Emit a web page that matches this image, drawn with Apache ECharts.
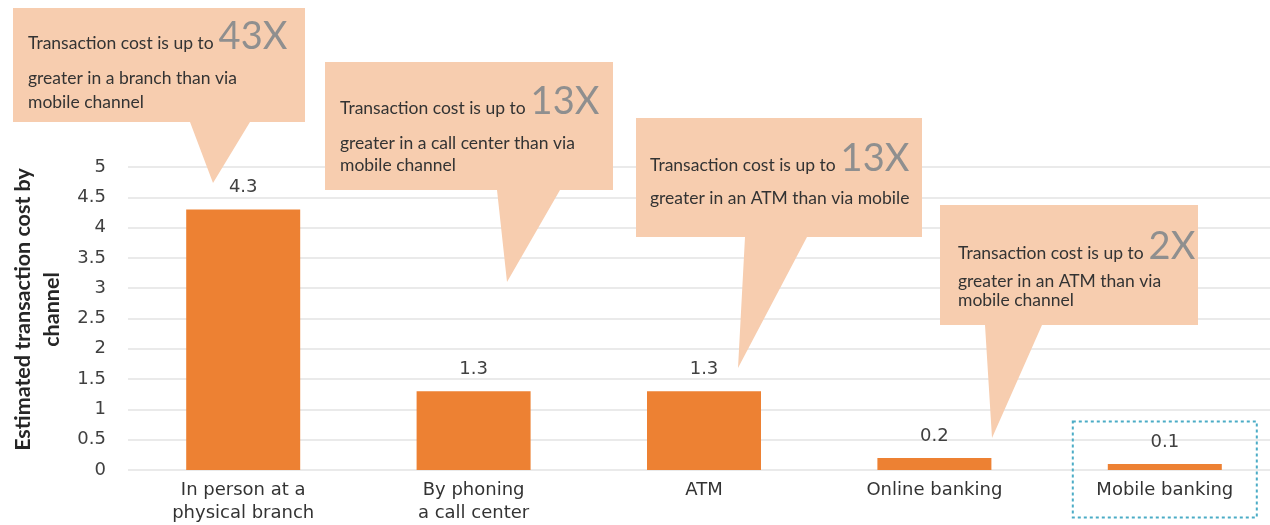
<!DOCTYPE html>
<html>
<head>
<meta charset="utf-8">
<script src="https://cdn.jsdelivr.net/npm/echarts@6/dist/echarts.min.js"></script>
<style>
  html, body { margin: 0; padding: 0; background: #ffffff; }
  #chart { width: 1270px; height: 525px; }
</style>
</head>
<body>
<div id="chart"></div>
<script>
// Channels and their estimated cost per transaction
const channels = [
  'In person at a\nphysical branch',
  'By phoning\na call center',
  'ATM',
  'Online banking',
  'Mobile banking'
];
const costs = [4.3, 1.3, 1.3, 0.2, 0.1];

// Callout texts
const calloutLead = [
  'Transaction cost is up to',
  'Transaction cost is up to',
  'Transaction cost is up to',
  'Transaction cost is up to'
];
const calloutMultiple = ['43X', '13X', '13X', '2X'];
const calloutRest = [
  'greater in a branch than via\nmobile channel',
  'greater in a call center than via\nmobile channel',
  'greater in an ATM than via mobile',
  'greater in an ATM than via\nmobile channel'
];

// Callout geometry in pixels:
// box [x0, y0, x1, y1], pointer base [bx0, bx1], tip [tx, ty],
// text left x, baseline of first line, baseline of second line, body line height
const calloutLayout = [
  { box: [13, 8, 305, 122],     base: [190, 250],  tip: [213, 183], tx: 28,  b1: 50,  b2: 85,  lh: 24 },
  { box: [325, 62, 613, 190],   base: [497, 560],  tip: [507, 282], tx: 340, b1: 115, b2: 150, lh: 22 },
  { box: [636, 118, 922, 237],  base: [745, 807],  tip: [738, 368], tx: 650, b1: 172, b2: 205, lh: 22 },
  { box: [940, 205, 1198, 325], base: [985, 1042], tip: [992, 438], tx: 958, b1: 260, b2: 288, lh: 19 }
];

const LABEL_FONT = '"DejaVu Sans", sans-serif';
const NOTE_FONT = 'Lato, "Open Sans", sans-serif';
const NOTE_SIZE = 17.5;
const BIG_SIZE = 38;

const chart = echarts.init(document.getElementById('chart'), null, { renderer: 'canvas' });

chart.setOption({
  backgroundColor: '#ffffff',
  animation: false,
  grid: { left: 128, right: -10, top: 167, bottom: 55, containLabel: false, outerBoundsMode: 'none' },
  xAxis: {
    type: 'category',
    data: channels,
    axisLine: { show: false },
    axisTick: { show: false },
    axisLabel: {
      fontFamily: LABEL_FONT, fontSize: 18, lineHeight: 23, color: '#333333',
      margin: 9, interval: 0
    }
  },
  yAxis: {
    type: 'value',
    min: 0, max: 5, interval: 0.5,
    name: 'Estimated transaction cost by\nchannel',
    nameLocation: 'middle',
    nameRotate: 90,
    nameGap: 59,
    nameTextStyle: {
      fontFamily: NOTE_FONT, fontSize: 21.5, fontWeight: 'bold', color: '#262626', lineHeight: 29,
      padding: [0, 0, 0, 18]
    },
    axisLine: { show: false },
    axisTick: { show: false },
    axisLabel: { fontFamily: LABEL_FONT, fontSize: 18, color: '#404040', margin: 22 },
    splitLine: { lineStyle: { color: '#e3e3e3', width: 1.5 } }
  },
  series: [{
    type: 'bar',
    data: costs,
    barWidth: 114,
    itemStyle: { color: '#ED8133' },
    label: {
      show: true, position: 'top', distance: 13,
      fontFamily: LABEL_FONT, fontSize: 18, color: '#404040'
    }
  }]
});

// Width of a string in a given font, used to place the large multiple after the lead text
const measureCtx = document.createElement('canvas').getContext('2d');
function textWidth(str, size, family) {
  measureCtx.font = size + 'px ' + family;
  return measureCtx.measureText(str).width;
}

// Callout bubbles and the highlight frame around the mobile channel
const graphics = [];
calloutLayout.forEach(function (c, i) {
  const [x0, y0, x1, y1] = c.box;
  graphics.push({
    type: 'polygon',
    z: 10,
    shape: {
      points: [[x0, y0], [x1, y0], [x1, y1], [c.base[1], y1], c.tip, [c.base[0], y1], [x0, y1]]
    },
    style: { fill: '#F7CDAF', stroke: null }
  });
  // lead text of the first line
  graphics.push({
    type: 'text', z: 11, x: c.tx, y: c.b1 - NOTE_SIZE * 0.36,
    style: {
      text: calloutLead[i], fontFamily: NOTE_FONT, fontSize: NOTE_SIZE,
      fill: '#333333', verticalAlign: 'middle', align: 'left'
    }
  });
  // large multiple sharing the first line's baseline
  graphics.push({
    type: 'text', z: 11,
    x: c.tx + textWidth(calloutLead[i], NOTE_SIZE, NOTE_FONT) + 5,
    y: c.b1 - BIG_SIZE * 0.36,
    style: {
      text: calloutMultiple[i], fontFamily: NOTE_FONT, fontSize: BIG_SIZE,
      fill: '#8f8f8f', verticalAlign: 'middle', align: 'left'
    }
  });
  // remaining lines
  graphics.push({
    type: 'text', z: 11, x: c.tx, y: c.b2 - NOTE_SIZE * 0.36 - c.lh / 2,
    style: {
      text: calloutRest[i], fontFamily: NOTE_FONT, fontSize: NOTE_SIZE, lineHeight: c.lh,
      fill: '#333333', verticalAlign: 'top', align: 'left'
    }
  });
});

// Dotted frame around the mobile banking column, placed from the axis scale
const mobileIdx = channels.length - 1;
const cx = chart.convertToPixel({ xAxisIndex: 0 }, mobileIdx);
const frameTop = chart.convertToPixel({ yAxisIndex: 0 }, 0.8);
graphics.push({
  type: 'rect',
  z: 12,
  shape: { x: cx - 92, y: frameTop, width: 184, height: 96 },
  style: { fill: null, stroke: '#4BACC6', lineWidth: 2, lineDash: [3, 3] }
});

chart.setOption({ graphic: graphics });
</script>
</body>
</html>
